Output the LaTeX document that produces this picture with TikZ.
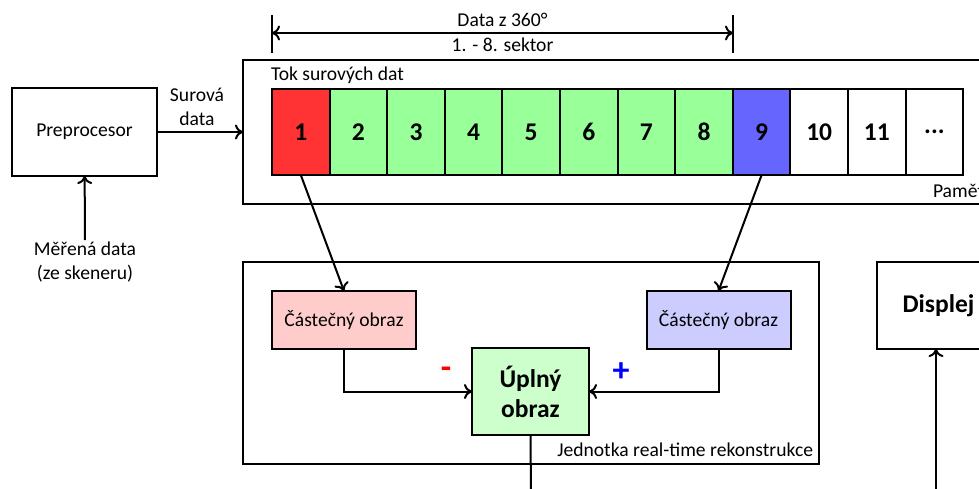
\documentclass[tikz,border=0pt]{standalone}
\usepackage{fontspec}
\setmainfont{Carlito}
\usetikzlibrary{arrows.meta}

\definecolor{sekred}{RGB}{255,51,51}
\definecolor{sekgreen}{RGB}{153,255,153}
\definecolor{sekblue}{RGB}{102,102,255}
\definecolor{partred}{RGB}{255,204,204}
\definecolor{partblue}{RGB}{204,204,255}
\definecolor{fullgreen}{RGB}{204,255,204}

\begin{document}
\begin{tikzpicture}[x=1pt, y=-1pt, line width=2pt, >={To[length=8pt,width=15pt]},
	font=\fontsize{19.6}{23.5}\selectfont,
	box/.style={draw, rectangle, inner sep=0pt, outer sep=0pt},
	sektor/.style={box, minimum width=57.6pt, minimum height=86pt, font=\fontsize{25.5}{30}\selectfont\bfseries},
	bigbold/.style={font=\fontsize{25.5}{30}\selectfont\bfseries}]
	\useasboundingbox (0,0) rectangle (979,488);
	\clip (0,0) rectangle (979,488);

	\node at (84.5,132) [box, minimum width=145pt, minimum height=88pt] (pre) {Preprocesor};
	\node at (85,262) [align=center, inner sep=1pt] (mer) {Měřená data\\(ze skeneru)};
	\node at (197,107) [align=center] (sur) {Surová\\data};

	\node at (621.5,132) [box, minimum width=757pt, minimum height=144pt] (pamet) {};
	\node at (270,75) [anchor=west, inner sep=0pt] (tok) {Tok surových dat};
	\node at (932,191) [anchor=west, inner sep=0pt] (pam) {Paměť};

	\node at (300.8,132) [sektor, fill=sekred] (s1) {1};
	\node at (358.4,132) [sektor, fill=sekgreen] (s2) {2};
	\node at (416.0,132) [sektor, fill=sekgreen] (s3) {3};
	\node at (473.6,132) [sektor, fill=sekgreen] (s4) {4};
	\node at (531.2,132) [sektor, fill=sekgreen] (s5) {5};
	\node at (588.8,132) [sektor, fill=sekgreen] (s6) {6};
	\node at (646.4,132) [sektor, fill=sekgreen] (s7) {7};
	\node at (704.0,132) [sektor, fill=sekgreen] (s8) {8};
	\node at (761.6,132) [sektor, fill=sekblue] (s9) {9};
	\node at (819.2,132) [sektor] (s10) {10};
	\node at (876.8,132) [sektor] (s11) {11};
	\node at (934.4,132) [sektor] (s12) {...};

	\coordinate (d1a) at (272,15);
	\coordinate (d1b) at (272,53);
	\coordinate (d2a) at (733,15);
	\coordinate (d2b) at (733,53);
	\coordinate (d1) at (272,33);
	\coordinate (d2) at (733,33);
	\node at (502.5,20) (data) {Data z 360°};
	\node at (502.5,45) (sek) {1. - 8. sektor};

	\node at (531,363) [box, minimum width=576pt, minimum height=202pt] (rek) {};
	\node at (814,450) [anchor=east, inner sep=0pt] (jed) {Jednotka real-time rekonstrukce};
	\node at (344,320) [box, fill=partred, minimum width=144pt, minimum height=58pt] (cl) {Částečný obraz};
	\node at (718.5,320) [box, fill=partblue, minimum width=144pt, minimum height=58pt] (cr) {Částečný obraz};
	\node at (530.5,391.5) [box, fill=fullgreen, minimum width=117pt, minimum height=87pt, align=center, bigbold] (up) {Úplný\\obraz};
	\node at (446,373) [text=red, font=\fontsize{34}{34}\selectfont\bfseries] (minus) {-};
	\node at (621,372) [text=blue, font=\fontsize{34}{34}\selectfont\bfseries] (plus) {+};

	\node at (938.5,305.5) [box, minimum width=123pt, minimum height=87pt, bigbold] (disp) {Displej};
	\coordinate (dole) at (531,495);
	\coordinate (dispin) at (936,495);

	\draw [->] (pre) -- (pamet.west);
	\draw [->] (mer) -- (pre);
	\draw (d1a) -- (d1b);
	\draw (d2a) -- (d2b);
	\draw [<->] (d1) -- (d2);
	\draw [->] (s1.south) -- (cl.north);
	\draw [->] (s9.south) -- (cr.north);
	\draw [->] (cl.south) |- (up.west);
	\draw [->] (cr.south) |- (up.east);
	\draw (up.south) -- (dole);
	\draw [->] (dispin) -- (dispin |- disp.south);
\end{tikzpicture}
\end{document}
